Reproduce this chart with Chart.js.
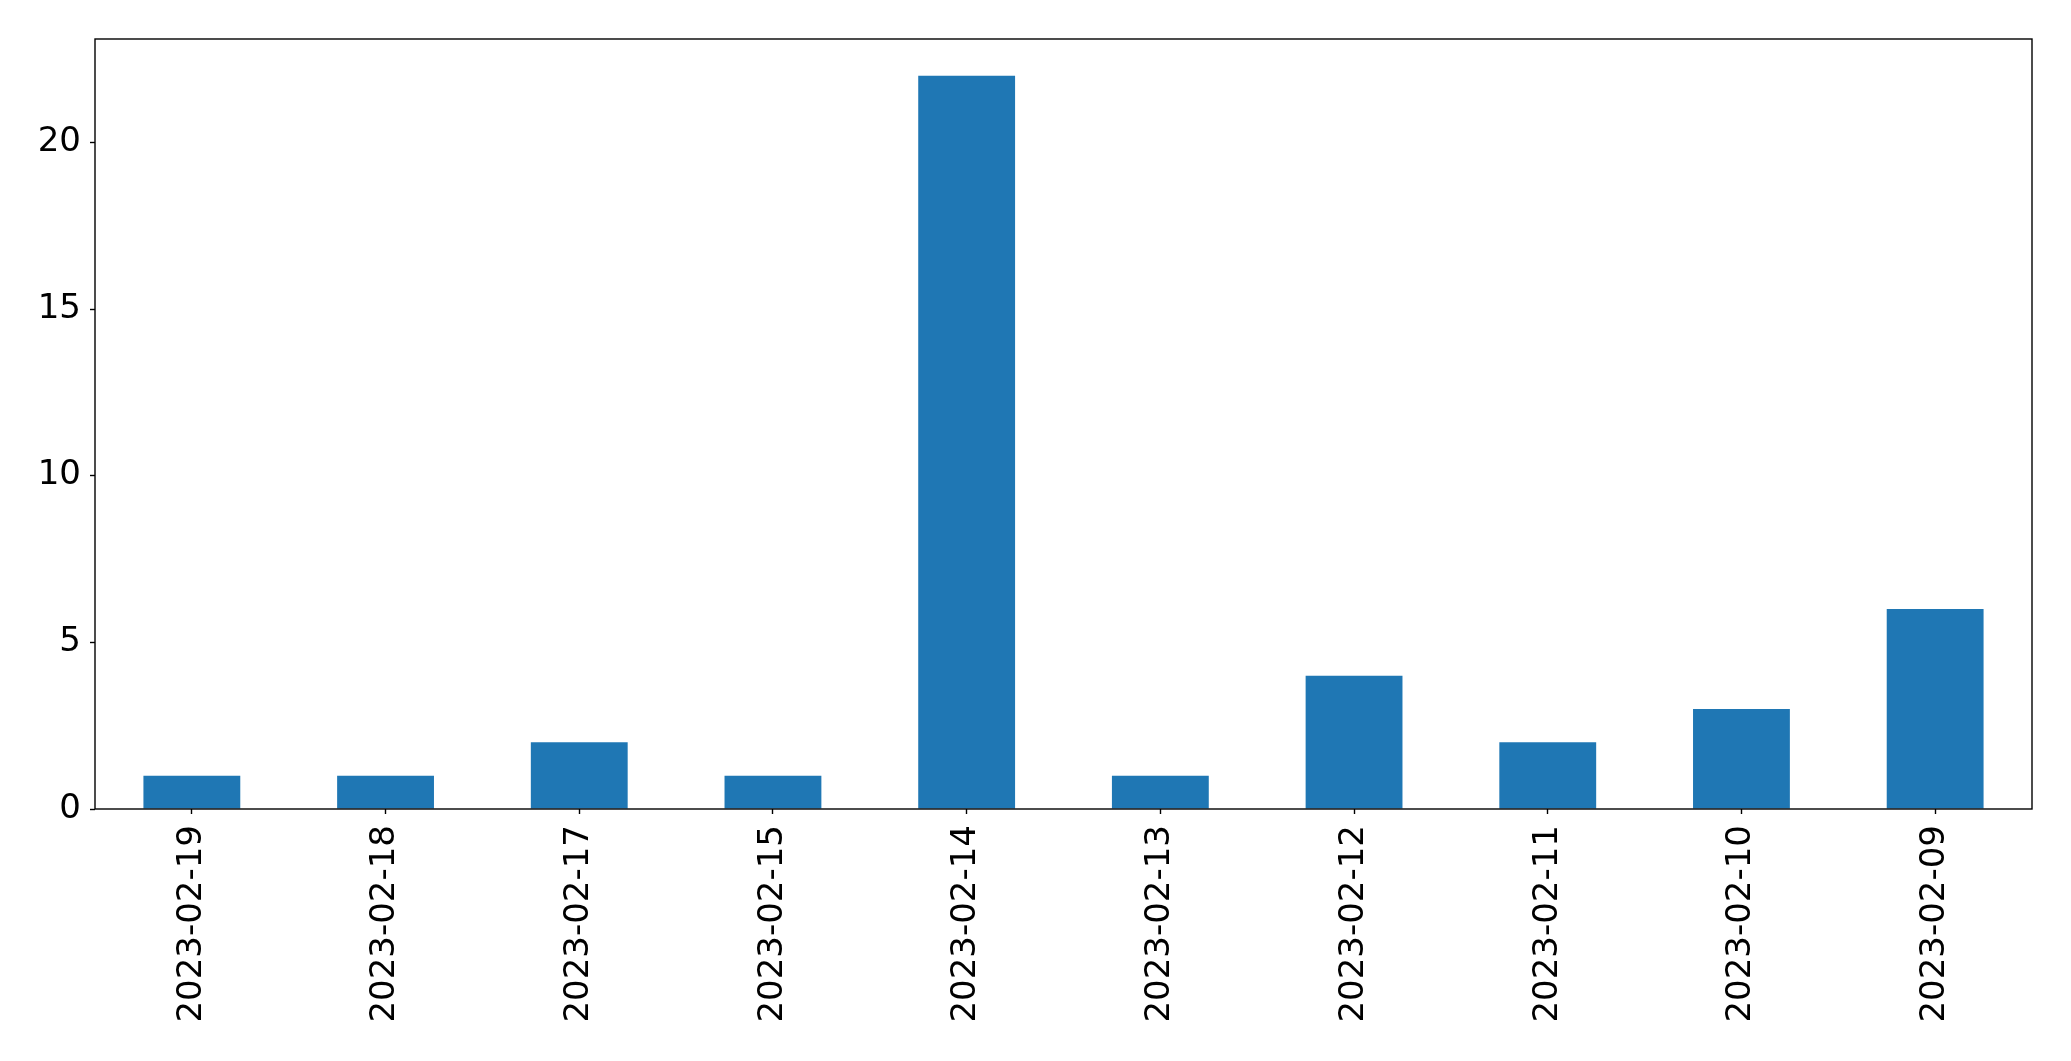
<!DOCTYPE html>
<html>
<head>
<meta charset="utf-8">
<script src="https://cdn.jsdelivr.net/npm/chart.js@4/dist/chart.umd.min.js"></script>
<style>
    html, body { margin: 0; padding: 0; background: #fff; }
    canvas { display: block; }
</style>
</head>
<body>
<canvas id="barChart" width="2071" height="1061"></canvas>
<script>
const dates = ["2023-02-19", "2023-02-18", "2023-02-17", "2023-02-15", "2023-02-14",
    "2023-02-13", "2023-02-12", "2023-02-11", "2023-02-10", "2023-02-09"];
const counts = [1, 1, 2, 1, 22, 1, 4, 2, 3, 6];
const yTicks = [0, 5, 10, 15, 20];

// box round the plot, like matplotlib spines
const frame = {
    id: "frame",
    afterDraw(chart) {
        const a = chart.chartArea;
        const ctx = chart.ctx;
        ctx.save();
        ctx.strokeStyle = "#000";
        ctx.lineWidth = 1.4;
        ctx.strokeRect(a.left, a.top, a.right - a.left, a.bottom - a.top);
        ctx.restore();
    },
};

document.addEventListener("DOMContentLoaded", function () {
    const el = document.getElementById("barChart");

    new Chart(el, {
        type: "bar",
        data: {
            labels: dates,
            datasets: [
                {
                    data: counts,
                    backgroundColor: "#1f77b4",
                    borderWidth: 0,
                    barPercentage: 0.5,
                    categoryPercentage: 1,
                },
            ],
        },
        options: {
            responsive: false,
            animation: false,
            layout: { padding: { top: 39, right: 39, left: 0, bottom: 0 } },
            plugins: {
                legend: { display: false },
                tooltip: { enabled: false },
            },
            scales: {
                x: {
                    grid: {
                        display: true,
                        drawOnChartArea: false,
                        offset: false,
                        tickLength: 5,
                        tickWidth: 1.4,
                        tickColor: "#000",
                    },
                    border: { display: false },
                    ticks: {
                        color: "#000",
                        font: { family: "DejaVu Sans", size: 34 },
                        minRotation: 90,
                        maxRotation: 90,
                        padding: 11,
                        autoSkip: false,
                    },
                    afterFit(scale) {
                        scale.height = 252;
                    },
                },
                y: {
                    min: 0,
                    max: 23.1,
                    grid: {
                        display: true,
                        drawOnChartArea: false,
                        tickLength: 5,
                        tickWidth: 1.4,
                        tickColor: "#000",
                    },
                    border: { display: false },
                    afterBuildTicks(scale) {
                        scale.ticks = yTicks.map(v => ({ value: v }));
                    },
                    ticks: {
                        color: "#000",
                        font: { family: "DejaVu Sans", size: 34 },
                        padding: 9,
                    },
                    afterFit(scale) {
                        scale.width = 95;
                    },
                },
            },
        },
        plugins: [frame],
    });
});
</script>
</body>
</html>
